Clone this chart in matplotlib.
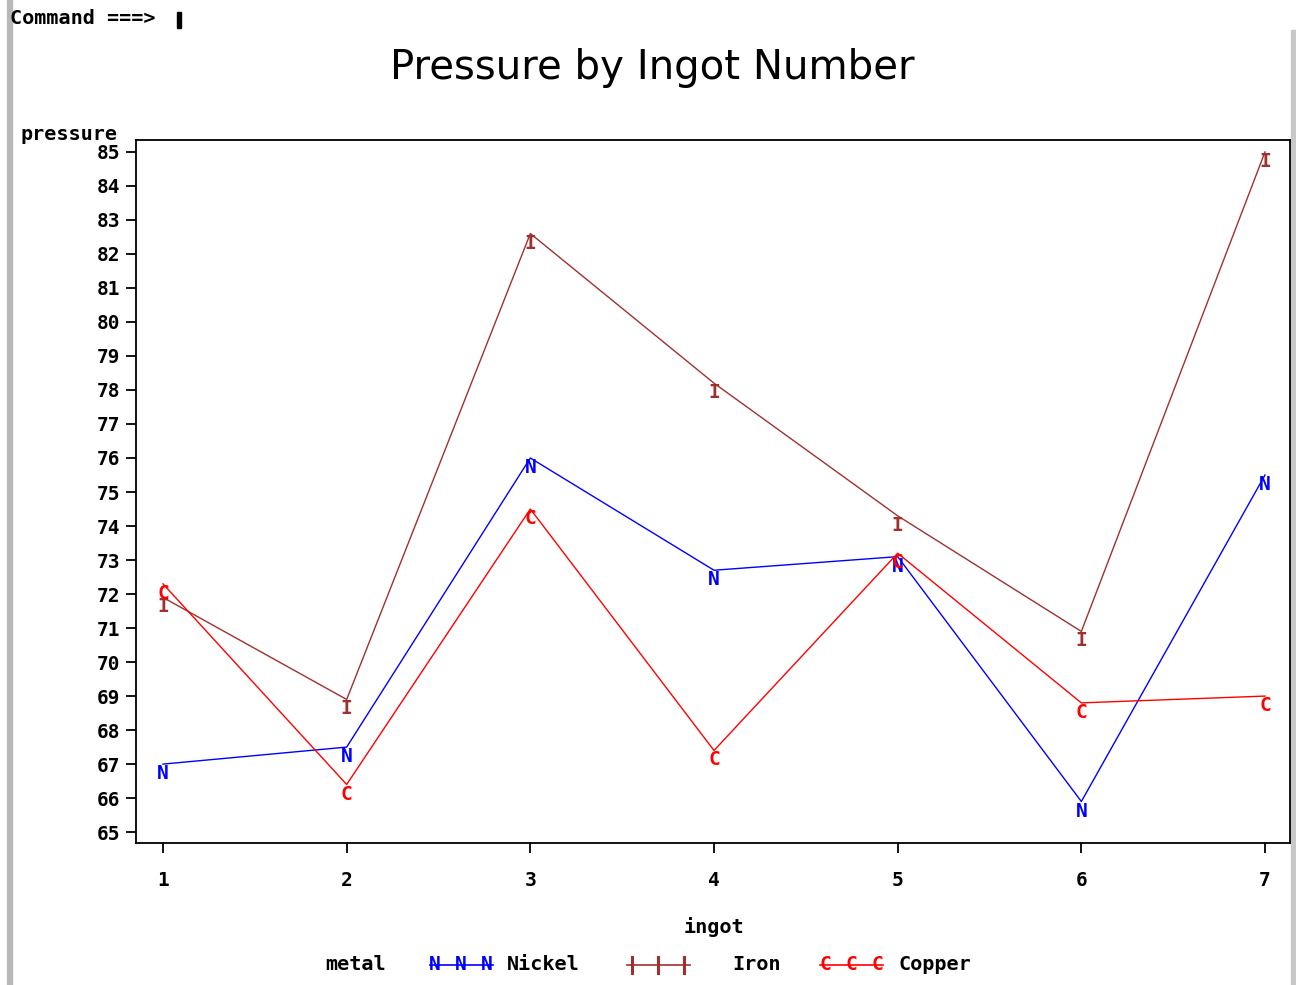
import matplotlib
matplotlib.use('Agg')
import matplotlib.pyplot as plt
from matplotlib.lines import Line2D
from matplotlib.patches import Rectangle

# datos
ingot = [1, 2, 3, 4, 5, 6, 7]
nickel = [67.0, 67.5, 76.0, 72.7, 73.1, 65.9, 75.5]
iron = [71.9, 68.9, 82.6, 78.2, 74.3, 70.9, 85.0]
copper = [72.3, 66.4, 74.5, 67.4, 73.2, 68.8, 69.0]
y_ticks = list(range(65, 86))

metals = [
    ("Nickel", nickel, "#0000ff", "N"),
    ("Iron", iron, "#a03030", "I"),
    ("Copper", copper, "#ff0000", "C"),
]

mono = "DejaVu Sans Mono"
W, H = 1296, 985

def fx(px):
    return px / W

def fy(py):
    return 1 - py / H

fig = plt.figure(figsize=(12.96, 9.85), dpi=100)
ax = fig.add_axes([fx(136), fy(843), (1290 - 136) / W, (843 - 140) / H])

for name, vals, col, letter in metals:
    ax.plot(ingot, vals, color=col, lw=1.0)
    for x, y in zip(ingot, vals):
        ax.text(x, y, letter, color=col, ha="center", va="top", family=mono,
                fontweight="bold", fontsize=14)

ax.set_xlim(0.853, 7.136)
ax.set_ylim(64.68, 85.35)
ax.set_xticks(ingot)
ax.set_yticks(y_ticks)
ax.tick_params(direction="out", length=7, width=1.3, labelsize=14, pad=4)
for lab in ax.get_xticklabels() + ax.get_yticklabels():
    lab.set_family(mono)
    lab.set_fontweight("bold")
ax.tick_params(axis="x", pad=13)
for sp in ax.spines.values():
    sp.set_linewidth(1.3)

# textos
fig.text(fx(652), fy(68), "Pressure by Ingot Number", ha="center", va="center",
         fontsize=29, family="DejaVu Sans")
fig.text(fx(20), fy(135), "pressure", ha="left", va="center", family=mono,
         fontweight="bold", fontsize=14.5)
fig.text(fx(714), fy(927), "ingot", ha="center", va="center", family=mono,
         fontweight="bold", fontsize=14.5)
fig.text(fx(10), fy(19), "Command ===>", ha="left", va="center", family=mono,
         fontweight="bold", fontsize=14.5)
fig.patches.append(Rectangle((fx(177), fy(28)), 4 / W, 16 / H,
                             transform=fig.transFigure, color="black"))

# bordes de la ventana
fig.patches.append(Rectangle((fx(7), 0), 5 / W, 1, transform=fig.transFigure,
                             color="#b8b8b8", zorder=-1))
fig.patches.append(Rectangle((fx(1291), 0), 5 / W, 1 - 30 / H,
                             transform=fig.transFigure, color="#c8c8c8", zorder=-1))

# leyenda
ly = fy(965)
fig.text(fx(325), ly, "metal", ha="left", va="center", family=mono,
         fontweight="bold", fontsize=14.5)
legend_pos = [(430, 507), (627, 732), (820, 898)]
for (name, vals, col, letter), (x0, xt) in zip(metals, legend_pos):
    fig.add_artist(Line2D([fx(x0), fx(x0 + 63)], [ly, ly], color=col, lw=1.2,
                          transform=fig.transFigure))
    for k in range(3):
        xm = fx(x0 + 5 + 26 * k)
        if letter == "I":
            fig.add_artist(Line2D([xm, xm], [ly - 8 / H, ly + 8 / H], color=col, lw=2.2,
                                  transform=fig.transFigure))
        else:
            fig.text(xm, ly, letter, color=col, ha="center", va="center", family=mono,
                     fontweight="bold", fontsize=14)
    fig.text(fx(xt), ly, name, ha="left", va="center", family=mono,
             fontweight="bold", fontsize=14.5)

fig.savefig("out.png", dpi=100, facecolor="white")
